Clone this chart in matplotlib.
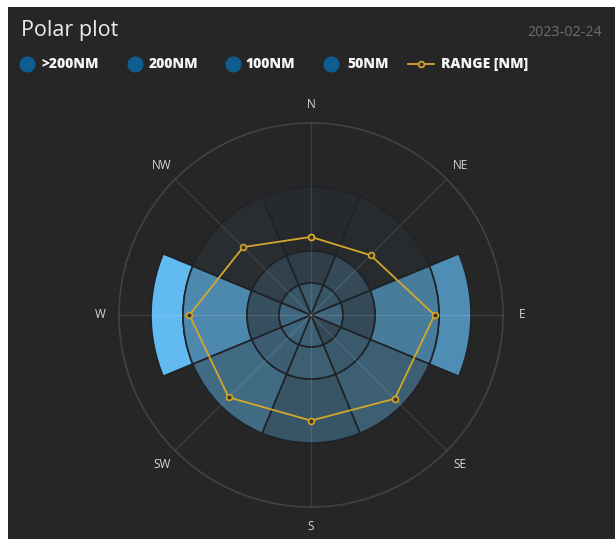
import numpy as np
import matplotlib
matplotlib.use("Agg")
import matplotlib.pyplot as plt
from matplotlib.lines import Line2D
from matplotlib.patches import Rectangle

plt.rcParams['font.family'] = ['Open Sans', 'DejaVu Sans']

# ---- data ----
directions = ["N", "NE", "E", "SE", "S", "SW", "W", "NW"]
band_labels = [">200NM", "200NM", "100NM", "50NM"]
band_bottoms = [200, 100, 50, 0]
band_tops = [250, 200, 100, 50]
# intensity (0..1) of each band per direction
int_gt200 = [0.0, 0.0, 0.69, 0.0, 0.0, 0.0, 0.99, 0.0]
int_200 = [0.03, 0.04, 0.57, 0.38, 0.31, 0.45, 0.66, 0.05]
int_100 = [0.16, 0.24, 0.24, 0.34, 0.38, 0.37, 0.28, 0.18]
int_50 = [0.34, 0.31, 0.41, 0.23, 0.375, 0.41, 0.43, 0.32]
intensities = [int_gt200, int_200, int_100, int_50]
range_nm = [122, 132, 193, 185, 165, 182, 190, 150]
range_label = "RANGE [NM]"
title = "Polar plot"
date_text = "2023-02-24"
r_max = 300

W, H = 615, 539
fig = plt.figure(figsize=(W / 100, H / 100), dpi=100, facecolor="white")
bg = "#262626"
fig.patches.append(Rectangle((8 / W, 0), 1 - 8 / W, 1 - 7 / H, transform=fig.transFigure,
                             facecolor=bg, edgecolor="none", zorder=-10))

cx, cy, R = 311, 315, 192
ax = fig.add_axes([(cx - R) / W, (H - cy - R) / H, 2 * R / W, 2 * R / H], projection="polar")
ax.set_facecolor(bg)
ax.patch.set_alpha(0)
ax.set_theta_zero_location("N")
ax.set_theta_direction(-1)
ax.set_ylim(0, r_max)

theta = np.deg2rad(np.arange(len(directions)) * 45)
base = np.array([98, 190, 245]) / 255.0

for bot, top, vals in zip(band_bottoms, band_tops, intensities):
    for t, v in zip(theta, vals):
        if v <= 0:
            continue
        ax.bar(t, top - bot, bottom=bot, width=np.pi / 4, align="center",
               facecolor=(*base, v), edgecolor="#1f2226", linewidth=1.2, zorder=2)

# grid: spokes on top of bars, faint
ax.set_yticks([])
ax.set_xticks(theta)
ax.set_xticklabels([])
ax.xaxis.grid(True, color="#ffffff", alpha=0.1, linewidth=1)
ax.set_axisbelow(False)
ax.spines["polar"].set_color("#424242")
ax.spines["polar"].set_linewidth(1.2)
ax.tick_params(axis="x", length=0)

for t, lab in zip(theta, directions):
    ax.text(t, r_max * 211 / 192, lab, ha="center", va="center", color="#d8d8d8",
            fontsize=8.5, clip_on=False)

th_c = np.append(theta, theta[0])
rg_c = np.append(range_nm, range_nm[0])
ax.plot(th_c, rg_c, color="#d4a72c", linewidth=1.3, marker="o", markersize=4.2,
        markerfacecolor="#3a3526", markeredgecolor="#d4a72c", markeredgewidth=1.2, zorder=5,
        clip_on=False)

# title/date
fig.text(21 / W, 1 - 35.7 / H, title, color="#ececec", fontsize=15.5, ha="left", va="baseline")
fig.text(602 / W, 1 - 35.7 / H, date_text, color="#6e6e6e", fontsize=10.3, ha="right", va="baseline")

# legend
ly = 1 - 64 / H
circle_x = [27, 135, 233, 331]
text_x = [41, 149, 245, 347]
for lab, xc, xt in zip(band_labels, circle_x, text_x):
    fig.add_artist(Line2D([xc / W], [ly], marker="o", markersize=10.5, color="#0f5d91",
                          linestyle="none", transform=fig.transFigure))
    fig.text(xt / W, ly, lab, color="#f5f5f5", fontsize=10, fontweight="heavy",
             ha="left", va="center")
fig.add_artist(Line2D([408 / W, 434 / W], [ly, ly], color="#d4a72c", linewidth=1.3,
                      transform=fig.transFigure))
fig.add_artist(Line2D([421 / W], [ly], marker="o", markersize=4.2, markerfacecolor="#3a3526",
                      markeredgecolor="#d4a72c", markeredgewidth=1.2, linestyle="none",
                      transform=fig.transFigure))
fig.text(441 / W, ly, range_label, color="#f5f5f5", fontsize=10, fontweight="heavy",
         ha="left", va="center")

fig.savefig("out.png", dpi=100, facecolor="white")
